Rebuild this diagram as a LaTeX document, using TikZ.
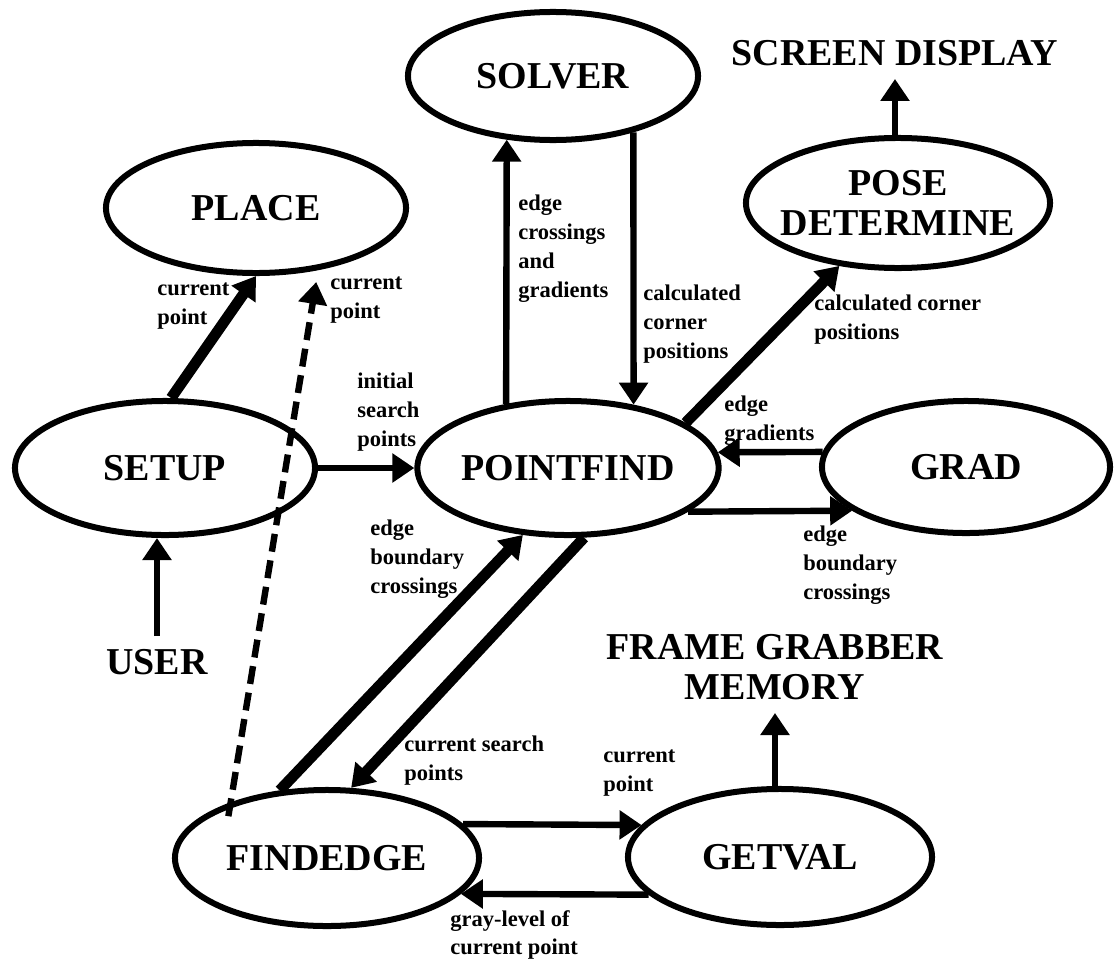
\documentclass[tikz,border=0pt]{standalone}
\usepackage{fontspec}
\setmainfont{Liberation Serif}
\usetikzlibrary{arrows.meta,shapes.geometric}
\newcommand{\nodefont}{\fontsize{27}{28.5}\selectfont\bfseries}
\newcommand{\flowfont}{\fontsize{16}{20.5}\selectfont\bfseries}

\begin{document}
\begin{tikzpicture}[x=0.025cm, y=-0.025cm,
  >={Triangle[length=0.55cm, width=0.7cm]},
  proc/.style={ellipse, draw, line width=0.15cm, minimum width=7.5cm, minimum height=3.35cm, inner sep=0, font=\nodefont},
  ext/.style={font=\nodefont, align=center, inner sep=0, outer sep=0.33cm},
  lbl/.style={font=\flowfont, align=left, anchor=north west, inner sep=0},
  flow/.style={->, line width=0.16cm},
  heavy/.style={->, line width=0.27cm}]
  \useasboundingbox (0,0) rectangle (1119,960);

  % processes
  \node[proc, minimum width=7.25cm, minimum height=3.2cm] (solver) at (553,76) {SOLVER};
  \node[proc, minimum height=3.25cm] (place) at (256,208) {PLACE};
  \node[proc, minimum width=7.6cm, minimum height=3.25cm,
    label={[ext, outer sep=0]center:POSE\\DETERMINE}] (pose) at (898,203) {};
  \node[proc] (setup) at (165,468) {SETUP};
  \node[proc] (pointfind) at (568,468) {POINTFIND};
  \node[proc, minimum width=7.2cm, minimum height=3.3cm] (grad) at (966,467) {GRAD};
  \node[proc, minimum width=7.6cm, minimum height=3.4cm] (findedge) at (327,858) {FINDEDGE};
  \node[proc, minimum width=7.6cm, minimum height=3.4cm] (getval) at (780,857) {GETVAL};

  % outside the program
  \node[ext] (screen) at (895,53) {SCREEN DISPLAY};
  \node[ext] (user) at (157,662) {USER};
  \node[ext] (frame) at (775,667) {FRAME GRABBER\\MEMORY};

  \draw[flow] (user.north) -- (user.north |- setup.south);
  \draw[heavy] (setup.85) -- (place.south);
  \draw[flow, dashed, dash pattern=on 0.45cm off 0.22cm, shorten <=-0.35cm, shorten >=0.3cm] (findedge.150) -- (place.-45);
  \draw[flow] (setup) -- (pointfind);
  \draw[flow] (pointfind.134) -- (solver.234);
  \draw[flow] (solver.-35) -- (pointfind.44);
  \draw[heavy] (pointfind.21) -- (pose.-133);
  \draw[flow] (pose.north -| screen.south) -- (screen.south);
  \draw[flow] (grad.174) -- (pointfind.6);
  \draw[flow] (pointfind.-20) -- (grad.-159);
  \draw[heavy] (findedge.125) -- (pointfind.-124);
  \draw[heavy] (pointfind.-77) -- (findedge.71);
  \draw[flow] (findedge.14) -- (getval.167);
  \draw[flow] (getval.-164) -- (findedge.-15);
  \draw[flow] (getval.north -| frame.south) -- (frame.south);

  % data on the connectors
  \node[lbl] (lplace) at (157,283) {current\\point};
  \node[lbl] (ldash) at (330,277) {current\\point};
  \node[lbl] (linit) at (357,373) {initial\\search\\points};
  \node[lbl] (lsolve) at (518,195) {edge\\crossings\\and\\gradients};
  \node[lbl] (lcalc) at (643,285) {calculated\\corner\\positions};
  \node[lbl] (lpose) at (814,295) {calculated corner\\positions};
  \node[lbl] (lgrad) at (724,396) {edge\\gradients};
  \node[lbl] (lbound) at (803,526) {edge\\boundary\\crossings};
  \node[lbl] (lfind) at (370,520) {edge\\boundary\\crossings};
  \node[lbl] (lsearch) at (404,736) {current search\\points};
  \node[lbl] (lget) at (603,750) {current\\point};
  \node[lbl] (lgray) at (450,910) {gray-level of\\current point};
\end{tikzpicture}
\end{document}
